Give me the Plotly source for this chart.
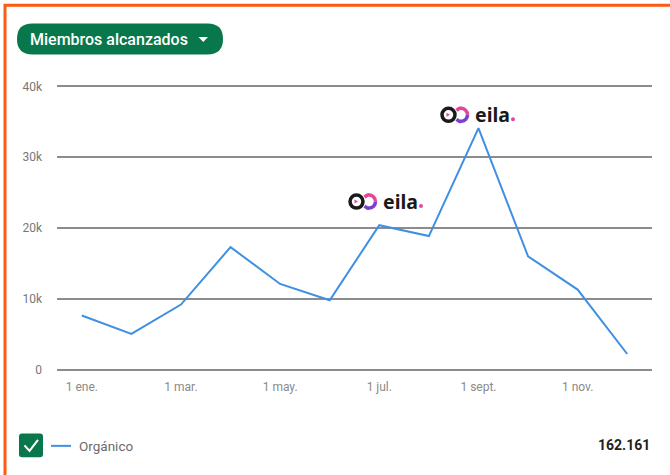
import plotly.graph_objects as go

# Monthly members reached (organic)
months = ["ene", "feb", "mar", "abr", "may", "jun", "jul", "ago", "sept", "oct", "nov", "dic"]
organico = [7640, 5050, 9190, 17300, 12100, 9800, 20400, 18860, 34100, 16000, 11300, 2200]
tick_months = ["ene", "mar", "may", "jul", "sept", "nov"]
tick_labels = ["1 ene.", "1 mar.", "1 may.", "1 jul.", "1 sept.", "1 nov."]
y_ticks = [0, 10000, 20000, 30000, 40000]
y_labels = ["0", "10k", "20k", "30k", "40k"]
total_label = "162.161"
series_name = "Orgánico"
dropdown_label = "Miembros alcanzados"

W, H = 670, 475
# pad the value range a little so the 0 and 40k gridlines get drawn
Y_PAD = 200
PX_PER_UNIT = 284 / 40000
L, R = 57, 18
T = 86 - Y_PAD * PX_PER_UNIT
B = 105 - Y_PAD * PX_PER_UNIT
PW, PH = W - L - R, H - T - B

GREEN = "#08784c"
BLUE = "#3f8fe3"
FONT = "Roboto"


def px(x):
    return (x - L) / PW


def py(y):
    return (H - B - y) / PH


def path(cmds):
    # cmds: list of (letter, [x, y, x, y, ...]) in pixel space -> paper path
    out = []
    for c, pts in cmds:
        coords = []
        for i in range(0, len(pts), 2):
            coords.append(f"{px(pts[i]):.5f},{py(pts[i + 1]):.5f}")
        out.append(c + " ".join(coords))
    return " ".join(out)


def rrect(x0, y0, x1, y1, r):
    return path([
        ("M", [x0 + r, y0]), ("L", [x1 - r, y0]), ("Q", [x1, y0, x1, y0 + r]),
        ("L", [x1, y1 - r]), ("Q", [x1, y1, x1 - r, y1]),
        ("L", [x0 + r, y1]), ("Q", [x0, y1, x0, y1 - r]),
        ("L", [x0, y0 + r]), ("Q", [x0, y0, x0 + r, y0]),
    ]) + " Z"


shapes = []
annotations = []


def pshape(d, fill=None, line=None, width=0):
    shapes.append(dict(type="path", xref="paper", yref="paper", path=d,
                       fillcolor=fill if fill else "rgba(0,0,0,0)",
                       line=dict(color=line if line else "rgba(0,0,0,0)", width=width),
                       layer="above"))


def text(x, y, s, size, color, anchor="left", weight="normal", family=FONT):
    annotations.append(dict(xref="paper", yref="paper", x=px(x), y=py(y), text=s,
                            showarrow=False, xanchor=anchor, yanchor="middle",
                            font=dict(family=family, size=size, color=color, weight=weight)))


def logo(x0, cy):
    r = 6.5
    k = 0.5523
    # black ring
    cx = x0 + 7.5
    shapes.append(dict(type="circle", xref="paper", yref="paper",
                       x0=px(cx - r), x1=px(cx + r), y0=py(cy + r), y1=py(cy - r),
                       line=dict(color="#1a1a1a", width=3.5), layer="above"))
    # small pink arrow inside the ring
    pshape(path([("M", [cx - 2, cy - 2]), ("L", [cx + 1.5, cy]), ("L", [cx - 2, cy + 2])]) + " Z",
           fill="#e8459a")
    # reversed C, pink on top, purple at bottom
    ax = x0 + 20
    pshape(path([("M", [ax - r * 0.7, cy - r * 0.7]),
                 ("Q", [ax - r * 0.1, cy - r * 1.15, ax, cy - r]),
                 ("C", [ax + k * r, cy - r, ax + r, cy - k * r, ax + r, cy])]),
           line="#e8459a", width=3.5)
    pshape(path([("M", [ax + r, cy]),
                 ("C", [ax + r, cy + k * r, ax + k * r, cy + r, ax, cy + r]),
                 ("Q", [ax - r * 0.1, cy + r * 1.15, ax - r * 0.7, cy + r * 0.7])]),
           line="#7b3fd0", width=3.5)
    text(x0 + 32, cy - 0.5, "eila", 19.5, "#1a1a1a", weight="bold", family="Noto Sans")
    shapes.append(dict(type="circle", xref="paper", yref="paper",
                       x0=px(x0 + 70), x1=px(x0 + 74), y0=py(cy + 6.5), y1=py(cy + 2.5),
                       fillcolor="#e8459a", line=dict(width=0), layer="above"))


fig = go.Figure()
fig.add_trace(go.Scatter(x=months, y=organico, mode="lines", name=series_name,
                         line=dict(color=BLUE, width=2), showlegend=False))

# orange frame on top and left
pshape(path([("M", [5, H + 2]), ("L", [5, 4.5]), ("L", [W + 2, 4.5])]), line="#ff5a12", width=3)

# dropdown pill
pshape(rrect(17, 23, 223, 54, 15.5), fill=GREEN)
text(28, 38.5, dropdown_label, 16, "white", weight=500)
pshape(path([("M", [198.5, 36.5]), ("L", [208, 36.5]), ("L", [203.25, 41.5])]) + " Z", fill="white")

# legend row
pshape(rrect(19, 434, 43, 458, 3), fill=GREEN)
pshape(path([("M", [24.5, 446]), ("L", [29.5, 451.5]), ("L", [38, 440.5])]), line="white", width=2)
pshape(path([("M", [51, 446.5]), ("L", [71, 446.5])]), line=BLUE, width=2)
text(77, 446.5, series_name, 13.5, "#6b6b6b")
text(652, 446, total_label, 14, "#1f1f1f", anchor="right", weight="bold")

logo(349, 201.5)
logo(441, 114.5)

fig.update_layout(
    width=W, height=H,
    margin=dict(l=L, r=R, t=T, b=B, pad=0),
    paper_bgcolor="white", plot_bgcolor="white",
    font=dict(family=FONT),
    shapes=shapes, annotations=annotations,
    xaxis=dict(type="category", range=[-0.5, 11.5], tickvals=tick_months, ticktext=tick_labels,
               showgrid=False, zeroline=False, showline=False, ticks="",
               ticklabelstandoff=7, tickfont=dict(size=12, color="#8a8a8a")),
    yaxis=dict(range=[-Y_PAD, 40000 + Y_PAD], tickvals=y_ticks, ticktext=y_labels,
               showgrid=True, gridcolor="#8c8c8c", gridwidth=1.5, zeroline=False,
               showline=False, ticks="", ticklabelstandoff=14,
               tickfont=dict(size=12, color="#777777")),
)

# the page keeps the browser's default body margin otherwise
fig.write_html("out.html", config={"displayModeBar": False},
               post_script="document.body.style.margin='0';")
